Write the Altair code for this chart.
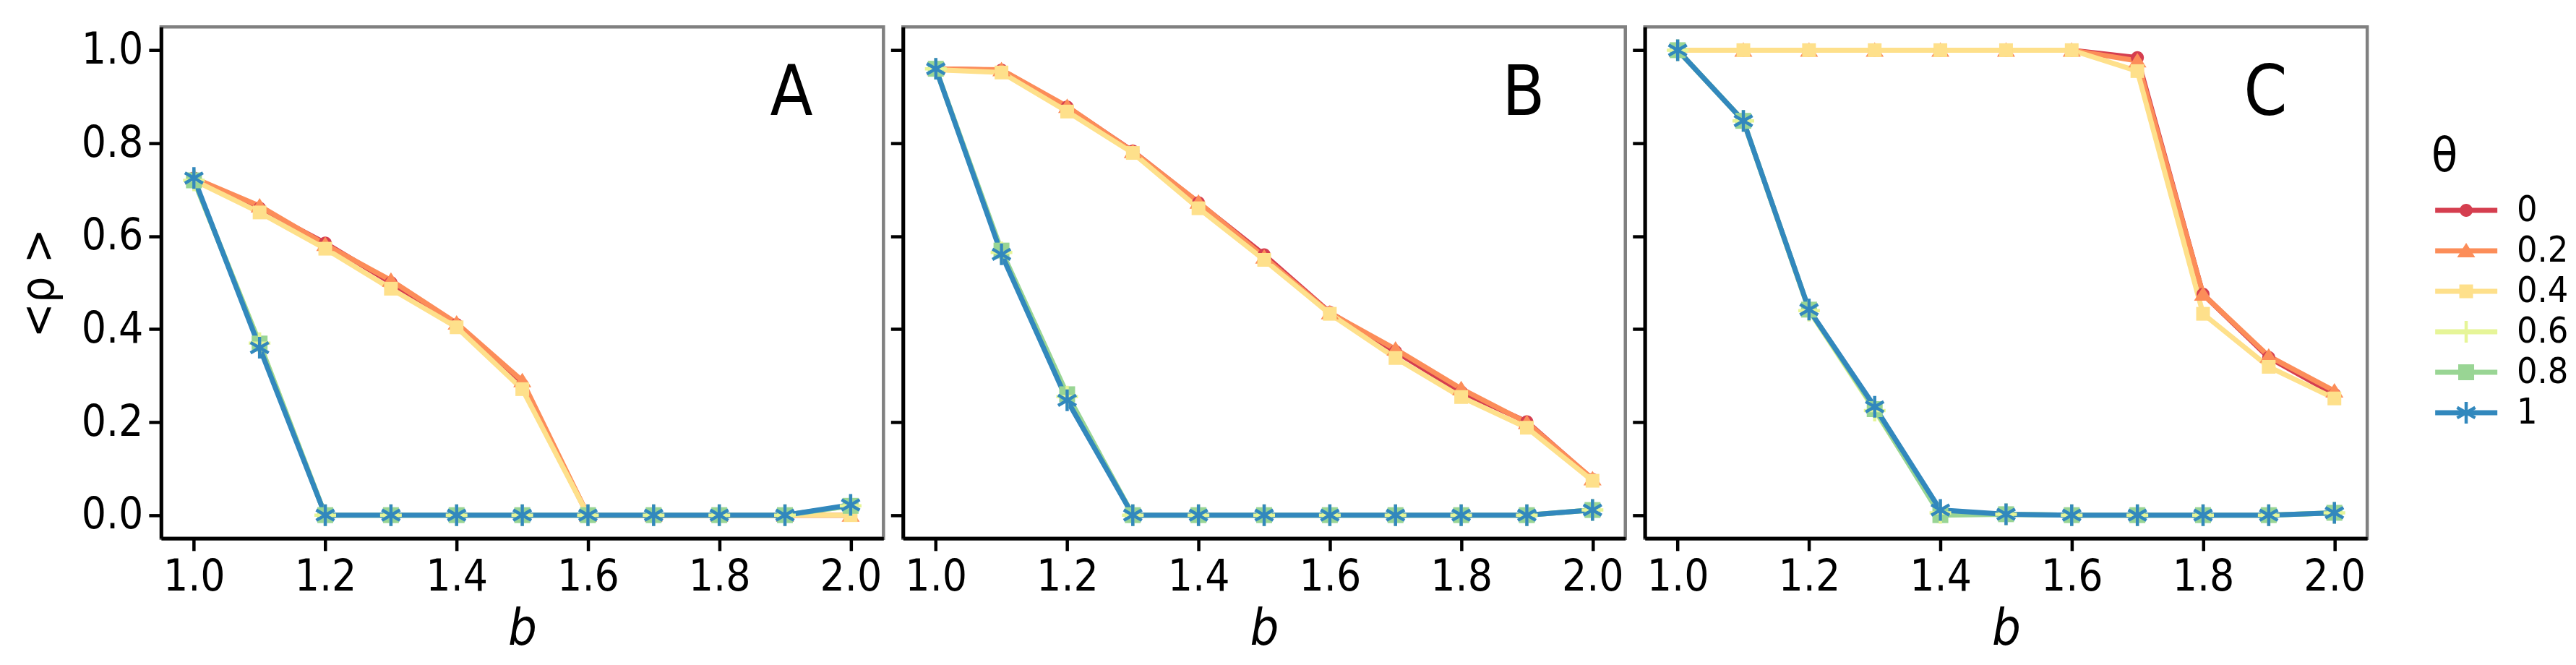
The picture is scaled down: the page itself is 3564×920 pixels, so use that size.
import altair as alt
import pandas as pd

# ---------------- data ----------------
B_VALUES = [1.0, 1.1, 1.2, 1.3, 1.4, 1.5, 1.6, 1.7, 1.8, 1.9, 2.0]
THETAS = ["0", "0.2", "0.4", "0.6", "0.8", "1"]
COLORS = ["#d53e4f", "#fc8d59", "#fee08b", "#e6f598", "#99d594", "#3288bd"]

# panel A
A_T0 = [0.725, 0.660, 0.585, 0.500, 0.410, 0.280, 0.0, 0.0, 0.0, 0.0, 0.0]
A_T02 = [0.725, 0.665, 0.582, 0.505, 0.413, 0.289, 0.0, 0.0, 0.0, 0.0, 0.0]
A_T04 = [0.720, 0.651, 0.573, 0.487, 0.404, 0.271, 0.0, 0.0, 0.0, 0.0, 0.0]
A_T06 = [0.720, 0.370, 0.0, 0.0, 0.0, 0.0, 0.0, 0.0, 0.0, 0.0, 0.020]
A_T08 = [0.720, 0.369, 0.0, 0.0, 0.0, 0.0, 0.0, 0.0, 0.0, 0.0, 0.020]
A_T1 = [0.725, 0.360, 0.0, 0.0, 0.0, 0.0, 0.0, 0.0, 0.0, 0.0, 0.022]

# panel B
B_T0 = [0.960, 0.957, 0.878, 0.783, 0.672, 0.560, 0.436, 0.352, 0.265, 0.201, 0.077]
B_T02 = [0.960, 0.958, 0.879, 0.782, 0.673, 0.555, 0.435, 0.357, 0.272, 0.199, 0.078]
B_T04 = [0.958, 0.952, 0.868, 0.779, 0.660, 0.549, 0.433, 0.338, 0.254, 0.188, 0.074]
B_T06 = [0.960, 0.565, 0.255, 0.0, 0.0, 0.0, 0.0, 0.0, 0.0, 0.0, 0.011]
B_T08 = [0.960, 0.569, 0.260, 0.0, 0.0, 0.0, 0.0, 0.0, 0.0, 0.0, 0.011]
B_T1 = [0.960, 0.561, 0.247, 0.0, 0.0, 0.0, 0.0, 0.0, 0.0, 0.0, 0.011]

# panel C
C_T0 = [1.0, 1.0, 1.0, 1.0, 1.0, 1.0, 1.0, 0.984, 0.475, 0.339, 0.260]
C_T02 = [1.0, 1.0, 1.0, 1.0, 1.0, 1.0, 1.0, 0.977, 0.475, 0.342, 0.267]
C_T04 = [1.0, 1.0, 1.0, 1.0, 1.0, 1.0, 1.0, 0.955, 0.433, 0.319, 0.251]
C_T06 = [1.0, 0.848, 0.440, 0.225, 0.005, 0.002, 0.0, 0.0, 0.0, 0.0, 0.005]
C_T08 = [1.0, 0.848, 0.442, 0.228, 0.0, 0.002, 0.0, 0.0, 0.0, 0.0, 0.005]
C_T1 = [1.0, 0.848, 0.442, 0.233, 0.011, 0.002, 0.0, 0.0, 0.0, 0.0, 0.005]

PANELS = ["A", "B", "C"]
PANEL_SERIES = {
    "A": [A_T0, A_T02, A_T04, A_T06, A_T08, A_T1],
    "B": [B_T0, B_T02, B_T04, B_T06, B_T08, B_T1],
    "C": [C_T0, C_T02, C_T04, C_T06, C_T08, C_T1],
}
LETTER_X = [1.91, 1.895, 1.895]
LETTER_Y = [0.86, 0.86, 0.86]

X_TICKS = [1.0, 1.2, 1.4, 1.6, 1.8, 2.0]
Y_TICKS = [0.0, 0.2, 0.4, 0.6, 0.8, 1.0]

# marker shapes (unit = sqrt(size)/2)
SHAPES = [
    "M-0.9,0A0.9,0.9,0,1,0,0.9,0A0.9,0.9,0,1,0,-0.9,0Z",
    "M0,-1.1L1.25,0.9L-1.25,0.9Z",
    "M-0.95,-0.95L0.95,-0.95L0.95,0.95L-0.95,0.95Z",
    "M-1.5,0L1.5,0M0,-1.5L0,1.5",
    "M-1.1,-1.1L1.1,-1.1L1.1,1.1L-1.1,1.1Z",
    "M0,-1.5L0,1.5M-1.25,-0.72L1.25,0.72M-1.25,0.72L1.25,-0.72",
]
FILLED_THETAS = ["0", "0.2", "0.4", "0.8"]
STROKED_THETAS = ["0.6", "1"]

FONT = "Liberation Sans Narrow, DejaVu Sans Condensed, DejaVu Sans"
W, H = 1000, 708

color_scale = alt.Scale(domain=THETAS, range=COLORS)
shape_scale = alt.Scale(domain=THETAS, range=SHAPES)


def panel_df(name):
    rows = []
    for t, vals in zip(THETAS, PANEL_SERIES[name]):
        for b, v in zip(B_VALUES, vals):
            rows.append({"b": b, "rho": v, "theta": t})
    return pd.DataFrame(rows)


def marker_layers(base, x_enc, y_enc):
    filled = base.transform_filter(
        alt.FieldOneOfPredicate(field="theta", oneOf=FILLED_THETAS)
    ).mark_point(filled=True, opacity=1, size=400, strokeWidth=0).encode(
        x=x_enc, y=y_enc,
        color=alt.Color("theta:N", scale=color_scale, legend=None),
        shape=alt.Shape("theta:N", scale=shape_scale, legend=None),
    )
    stroked = base.transform_filter(
        alt.FieldOneOfPredicate(field="theta", oneOf=STROKED_THETAS)
    ).mark_point(filled=False, opacity=1, size=400, strokeWidth=4.5).encode(
        x=x_enc, y=y_enc,
        color=alt.Color("theta:N", scale=color_scale, legend=None),
        shape=alt.Shape("theta:N", scale=shape_scale, legend=None),
    )
    return filled, stroked


def make_panel(idx, name):
    df = panel_df(name)
    first = idx == 0
    x_enc = alt.X(
        "b:Q",
        scale=alt.Scale(domain=[0.95, 2.05], nice=False, zero=False),
        axis=alt.Axis(values=X_TICKS, format=".1f", title="b",
                      titleFontStyle="italic", titleFontSize=70, titlePadding=8),
    )
    if first:
        y_axis = alt.Axis(values=Y_TICKS, format=".1f", title="<ρ >",
                          minExtent=104, maxExtent=104, titlePadding=32)
    else:
        y_axis = alt.Axis(values=Y_TICKS, labels=False, title=None)
    y_enc = alt.Y("rho:Q", scale=alt.Scale(domain=[-0.05, 1.05], nice=False, zero=False),
                  axis=y_axis)

    base = alt.Chart(df)
    lines = base.mark_line(strokeWidth=7).encode(
        x=x_enc, y=y_enc,
        color=alt.Color("theta:N", scale=color_scale, legend=None),
        order=alt.Order("b:Q"),
        detail="theta:N",
    )
    filled, stroked = marker_layers(base, x_enc, y_enc)
    ldf = pd.DataFrame({"b": [LETTER_X[idx]], "rho": [LETTER_Y[idx]], "label": [name]})
    letter = alt.Chart(ldf).mark_text(
        fontSize=96, font=FONT, align="center", baseline="alphabetic", color="black"
    ).encode(x=alt.X("b:Q"), y=alt.Y("rho:Q"), text="label:N")
    return alt.layer(lines, filled, stroked, letter).properties(width=W, height=H)


panels = [make_panel(i, n) for i, n in enumerate(PANELS)]

# ---------------- legend panel ----------------
LEG_IDX = [0, 1, 2, 3, 4, 5]
leg_df = pd.DataFrame({
    "theta": THETAS,
    "idx": LEG_IDX,
    "x0": [0.331] * 6,
    "x1": [0.662] * 6,
    "xm": [0.496] * 6,
    "xl": [0.765] * 6,
})
title_df = pd.DataFrame({"x": [0.381], "idx": [-1.32], "t": ["θ"]})

lx = alt.Scale(domain=[0, 1], nice=False, zero=False)
ly = alt.Scale(domain=[-4.536, 8.107], nice=False, zero=False, reverse=True)

leg_base = alt.Chart(leg_df)
leg_lines = leg_base.mark_rule(strokeWidth=7).encode(
    x=alt.X("x0:Q", scale=lx, axis=None),
    x2="x1:Q",
    y=alt.Y("idx:Q", scale=ly, axis=None),
    color=alt.Color("theta:N", scale=color_scale, legend=None),
)
lxm = alt.X("xm:Q", scale=lx, axis=None)
lym = alt.Y("idx:Q", scale=ly, axis=None)
leg_filled, leg_stroked = marker_layers(leg_base, lxm, lym)
leg_text = leg_base.mark_text(
    fontSize=50, font=FONT, align="left", baseline="middle", color="black"
).encode(
    x=alt.X("xl:Q", scale=lx, axis=None),
    y=alt.Y("idx:Q", scale=ly, axis=None),
    text="theta:N",
)
leg_title = alt.Chart(title_df).mark_text(
    fontSize=66, font=FONT, align="center", baseline="middle", color="black"
).encode(
    x=alt.X("x:Q", scale=lx, axis=None),
    y=alt.Y("idx:Q", scale=ly, axis=None),
    text="t:N",
)
legend = alt.layer(leg_lines, leg_filled, leg_stroked, leg_text, leg_title).properties(
    width=260, height=H, view=alt.ViewBackground(stroke="transparent")
)

chart = alt.hconcat(*panels, legend, spacing=2).resolve_scale(
    color="shared", shape="shared"
).properties(
    padding={"left": 12, "top": 26, "right": 0, "bottom": 0},
    background="white",
).configure_view(
    stroke="#808080", strokeWidth=4.5
).configure_axis(
    grid=False,
    labelFont=FONT, labelFontSize=60, labelColor="black", labelPadding=8,
    titleFont=FONT, titleFontSize=64, titleFontWeight="normal", titleColor="black",
    tickSize=17, tickWidth=4.5, tickColor="black",
    domainColor="black", domainWidth=5,
)

chart.save("out.html", embed_options={"renderer": "svg", "actions": False})
